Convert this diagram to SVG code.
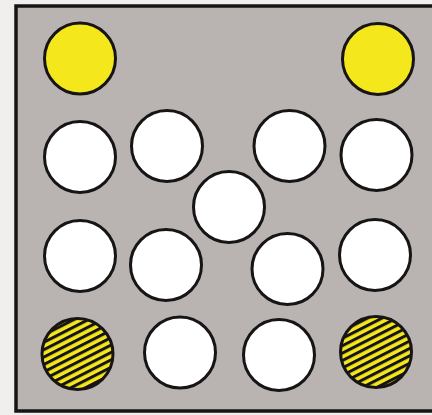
<svg xmlns="http://www.w3.org/2000/svg" width="432" height="415" viewBox="0 0 432 415">
<style>
.w{fill:#ffffff;stroke:#161414;stroke-width:3}
.y{fill:#f4e81c;stroke:#161414;stroke-width:3}
.h{fill:url(#hatch);stroke:#161414;stroke-width:3}
</style>
<defs>
<pattern id="hatch" patternUnits="userSpaceOnUse" width="6.6" height="6.6" patternTransform="rotate(-27)">
<rect width="6.6" height="6.6" fill="#f4e81c"/>
<rect width="6.6" height="3" fill="#161414"/>
</pattern>
</defs>
<rect width="432" height="415" fill="#f1efee"/>
<g id="board">
<rect x="16" y="6" width="420" height="405" fill="#b9b4b1" stroke="#161414" stroke-width="3.5"/>
</g>
<g id="connectors"></g>
<g id="n1"><circle class="y" cx="80" cy="58.5" r="35.5"/></g>
<g id="n2"><circle class="y" cx="378" cy="59" r="35.5"/></g>
<g id="n3"><circle class="w" cx="80" cy="157" r="35.5"/></g>
<g id="n4"><circle class="w" cx="167" cy="146" r="35.5"/></g>
<g id="n5"><circle class="w" cx="289.5" cy="146" r="35.5"/></g>
<g id="n6"><circle class="w" cx="376.5" cy="155" r="35.5"/></g>
<g id="n7"><circle class="w" cx="229" cy="207" r="35.5"/></g>
<g id="n8"><circle class="w" cx="80" cy="256" r="35.5"/></g>
<g id="n9"><circle class="w" cx="166" cy="265" r="35.5"/></g>
<g id="n10"><circle class="w" cx="287.5" cy="269" r="35.5"/></g>
<g id="n11"><circle class="w" cx="375" cy="255" r="35.5"/></g>
<g id="n12"><circle class="h" cx="77.5" cy="354" r="35.5"/></g>
<g id="n13"><circle class="w" cx="180" cy="352.5" r="35.5"/></g>
<g id="n14"><circle class="w" cx="279" cy="355" r="35.5"/></g>
<g id="n15"><circle class="h" cx="376" cy="352" r="35.5"/></g>
</svg>
